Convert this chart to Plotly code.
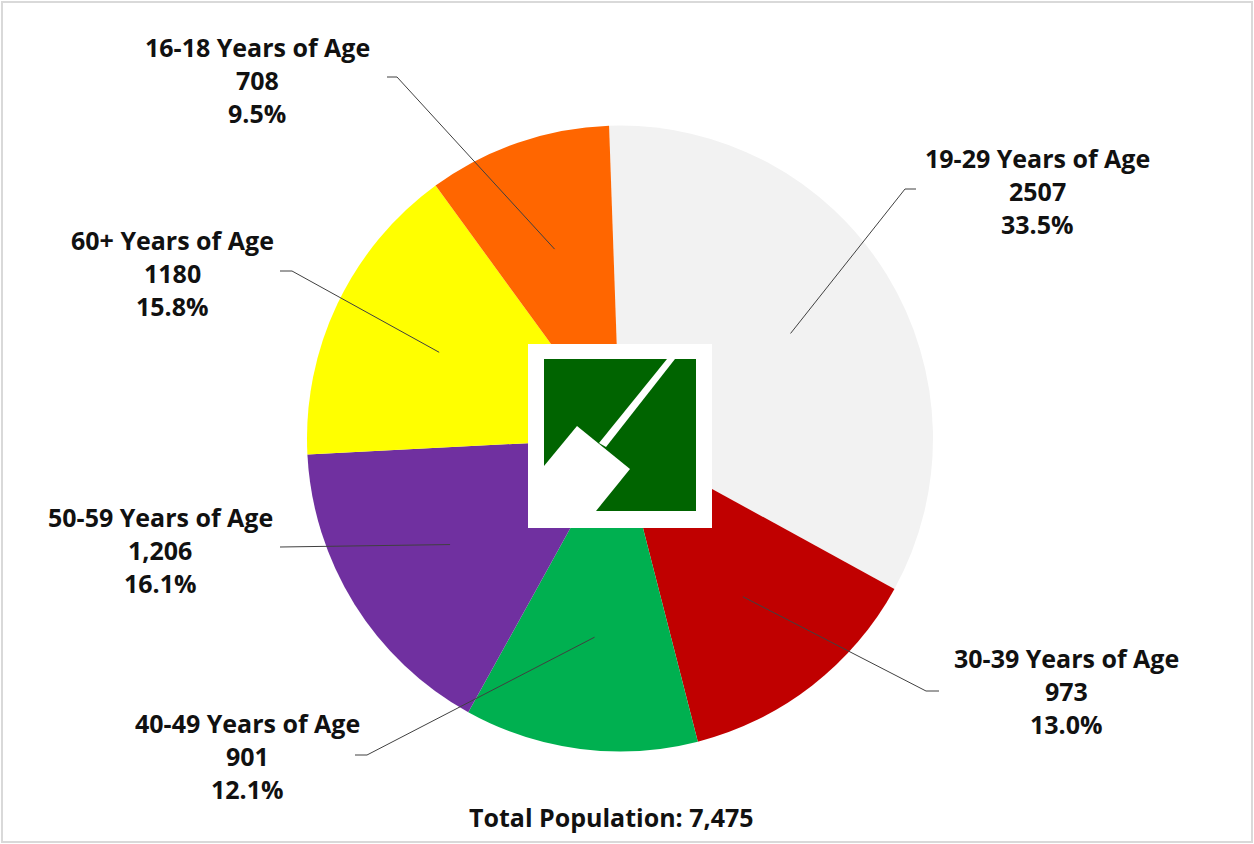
import math
import plotly.graph_objects as go

W, H = 1254, 844

# data
age_groups = ["19-29 Years of Age", "30-39 Years of Age", "40-49 Years of Age",
              "50-59 Years of Age", "60+ Years of Age", "16-18 Years of Age"]
counts = [2507, 973, 901, 1206, 1180, 708]
count_labels = ["2507", "973", "901", "1,206", "1180", "708"]
colors = ["#F2F2F2", "#C00000", "#00B050", "#7030A0", "#FFFF00", "#FF6600"]
total_label = "Total Population: 7,475"

# layout (pixels)
pie_left, pie_right, pie_top, pie_bottom = 307, 933, 125, 752
rotation = -2
label_centers = [(1037, 158), (1066, 658), (248, 723), (160, 517), (172, 240), (257, 47)]
# end of the leader next to the text, and the elbow
leader_text_end = [(916, 189), (939, 691), (355, 755), (280, 547), (280, 271), (387, 77)]
leader_elbow = [(905, 189), (926, 691), (367, 755), (280, 547), (292, 271), (397, 77)]
line_gap = 33
FONT = "Open Sans"
FONT_SIZE = 25


def px(x):
    return x / W


def py(y):
    return 1 - y / H


fig = go.Figure(go.Pie(
    values=counts,
    labels=age_groups,
    marker=dict(colors=colors, line=dict(width=0)),
    sort=False,
    direction="clockwise",
    rotation=rotation,
    textinfo="none",
    hoverinfo="label+value+percent",
    showlegend=False,
    domain=dict(x=[px(pie_left), px(pie_right)], y=[py(pie_bottom), py(pie_top)]),
))

total = sum(counts)
cx = (pie_left + pie_right) / 2
cy = (pie_top + pie_bottom) / 2
radius = (pie_right - pie_left) / 2

shapes = []
annotations = []
cum = 0
for i, name in enumerate(age_groups):
    frac = counts[i] / total
    mid = math.radians(rotation + 360 * (cum + frac / 2))
    cum += frac
    # point inside the slice
    sx = cx + 0.64 * radius * math.sin(mid)
    sy = cy - 0.64 * radius * math.cos(mid)
    ex, ey = leader_elbow[i]
    tx, ty = leader_text_end[i]
    path = f"M {px(sx)},{py(sy)} L {px(ex)},{py(ey)} L {px(tx)},{py(ty)}"
    shapes.append(dict(type="path", xref="paper", yref="paper", path=path,
                       line=dict(color="#404040", width=1)))

    lx, ly = label_centers[i]
    lines = [name, count_labels[i], f"{frac * 100:.1f}%"]
    for k, txt in enumerate(lines):
        annotations.append(dict(
            x=px(lx), y=py(ly + k * line_gap), xref="paper", yref="paper",
            text=f"<b>{txt}</b>", showarrow=False, xanchor="center", yanchor="middle",
            font=dict(family=FONT, size=FONT_SIZE, color="#111111"),
        ))

annotations.append(dict(
    x=px(611), y=py(817), xref="paper", yref="paper",
    text=f"<b>{total_label}</b>", showarrow=False, xanchor="center", yanchor="middle",
    font=dict(family=FONT, size=FONT_SIZE, color="#111111"),
))

# logo in the middle
logo = [
    dict(type="rect", x0=px(528), x1=px(712), y0=py(528), y1=py(344),
         fillcolor="white", line=dict(width=0)),
    dict(type="rect", x0=px(544), x1=px(696), y0=py(511), y1=py(359),
         fillcolor="#006400", line=dict(width=0)),
    dict(type="path",
         path=f"M {px(667)},{py(359)} L {px(675)},{py(359)} L {px(606)},{py(447)} L {px(599)},{py(443)} Z",
         fillcolor="white", line=dict(width=0)),
    dict(type="path",
         path=f"M {px(577)},{py(426)} L {px(630)},{py(469)} L {px(596)},{py(511)} "
              f"L {px(544)},{py(511)} L {px(544)},{py(466)} Z",
         fillcolor="white", line=dict(width=0)),
]
for s in logo:
    s["xref"] = "paper"
    s["yref"] = "paper"

border = dict(type="rect", xref="paper", yref="paper",
              x0=px(2), x1=px(1252), y0=py(842), y1=py(2),
              line=dict(color="#D9D9D9", width=2), fillcolor="rgba(0,0,0,0)")

fig.update_layout(
    width=W, height=H,
    margin=dict(l=0, r=0, t=0, b=0),
    paper_bgcolor="white",
    plot_bgcolor="white",
    shapes=shapes + logo + [border],
    annotations=annotations,
)

# drop the default page margin so the figure sits at the window corner
fig.write_html("out.html", config={"displayModeBar": False},
               post_script="document.body.style.margin='0';document.body.style.overflow='hidden';")
